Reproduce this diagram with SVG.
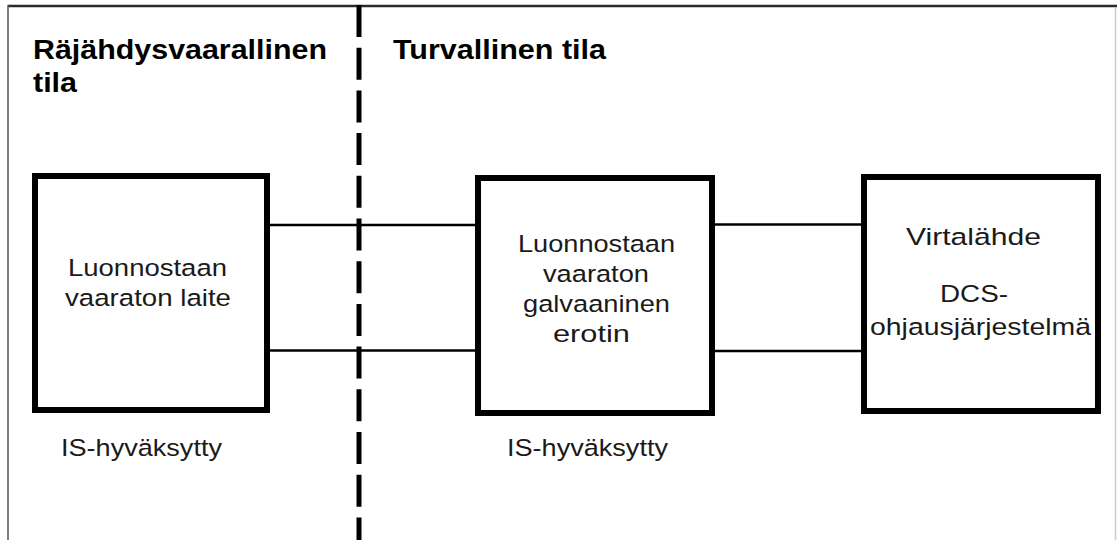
<svg xmlns="http://www.w3.org/2000/svg" width="1117" height="540" viewBox="0 0 1117 540">
<style>
.box{fill:#fff;stroke:#000;stroke-width:6}
.wire{stroke:#000;stroke-width:2.5;fill:none}
.title{font-family:"Liberation Sans",Arial,sans-serif;font-weight:bold;font-size:27px;fill:#000}
.lbl{font-family:"Liberation Sans",Arial,sans-serif;font-size:24.5px;fill:#1a1a1a}
</style>
<rect x="0" y="0" width="1117" height="540" fill="#fff"/>
<g id="frame">
<line x1="8" y1="6" x2="1117" y2="6" stroke="#2a2a2a" stroke-width="2.5"/>
<line x1="8" y1="5" x2="8" y2="540" stroke="#555" stroke-width="1.5"/>
<line x1="1115.5" y1="8" x2="1115.5" y2="540" stroke="#ccc" stroke-width="1.5"/>
</g>
<g id="divider">
<line x1="359" y1="5" x2="359" y2="540" stroke="#000" stroke-width="5" stroke-dasharray="32 10.7"/>
</g>
<g id="zone-labels">
<text class="title" x="33" y="59" textLength="294" lengthAdjust="spacingAndGlyphs">Räjähdysvaarallinen</text>
<text class="title" x="33" y="92" textLength="44" lengthAdjust="spacingAndGlyphs">tila</text>
<text class="title" x="393" y="59" textLength="213" lengthAdjust="spacingAndGlyphs">Turvallinen tila</text>
</g>
<g id="connectors">
<line class="wire" x1="270" y1="225" x2="475" y2="225"/>
<line class="wire" x1="270" y1="350.5" x2="475" y2="350.5"/>
<line class="wire" x1="715" y1="224.5" x2="861" y2="224.5"/>
<line class="wire" x1="715" y1="351" x2="861" y2="351"/>
</g>
<g id="node-device">
<rect class="box" x="35" y="176" width="232" height="234"/>
<text class="lbl" x="68" y="276" textLength="159" lengthAdjust="spacingAndGlyphs">Luonnostaan</text>
<text class="lbl" x="65" y="306" textLength="166" lengthAdjust="spacingAndGlyphs">vaaraton laite</text>
<text class="lbl" x="61" y="456" textLength="161" lengthAdjust="spacingAndGlyphs">IS-hyväksytty</text>
</g>
<g id="node-isolator">
<rect class="box" x="478" y="178" width="234" height="235"/>
<text class="lbl" x="518" y="252" textLength="157" lengthAdjust="spacingAndGlyphs">Luonnostaan</text>
<text class="lbl" x="543" y="282" textLength="106" lengthAdjust="spacingAndGlyphs">vaaraton</text>
<text class="lbl" x="523" y="312" textLength="147" lengthAdjust="spacingAndGlyphs">galvaaninen</text>
<text class="lbl" x="553" y="342" textLength="77" lengthAdjust="spacingAndGlyphs">erotin</text>
<text class="lbl" x="507" y="456" textLength="161" lengthAdjust="spacingAndGlyphs">IS-hyväksytty</text>
</g>
<g id="node-dcs">
<rect class="box" x="864" y="177" width="234" height="234"/>
<text class="lbl" x="906" y="245" textLength="135" lengthAdjust="spacingAndGlyphs">Virtalähde</text>
<text class="lbl" x="940" y="302" textLength="68" lengthAdjust="spacingAndGlyphs">DCS-</text>
<text class="lbl" x="870" y="335" textLength="221" lengthAdjust="spacingAndGlyphs">ohjausjärjestelmä</text>
</g>
</svg>
